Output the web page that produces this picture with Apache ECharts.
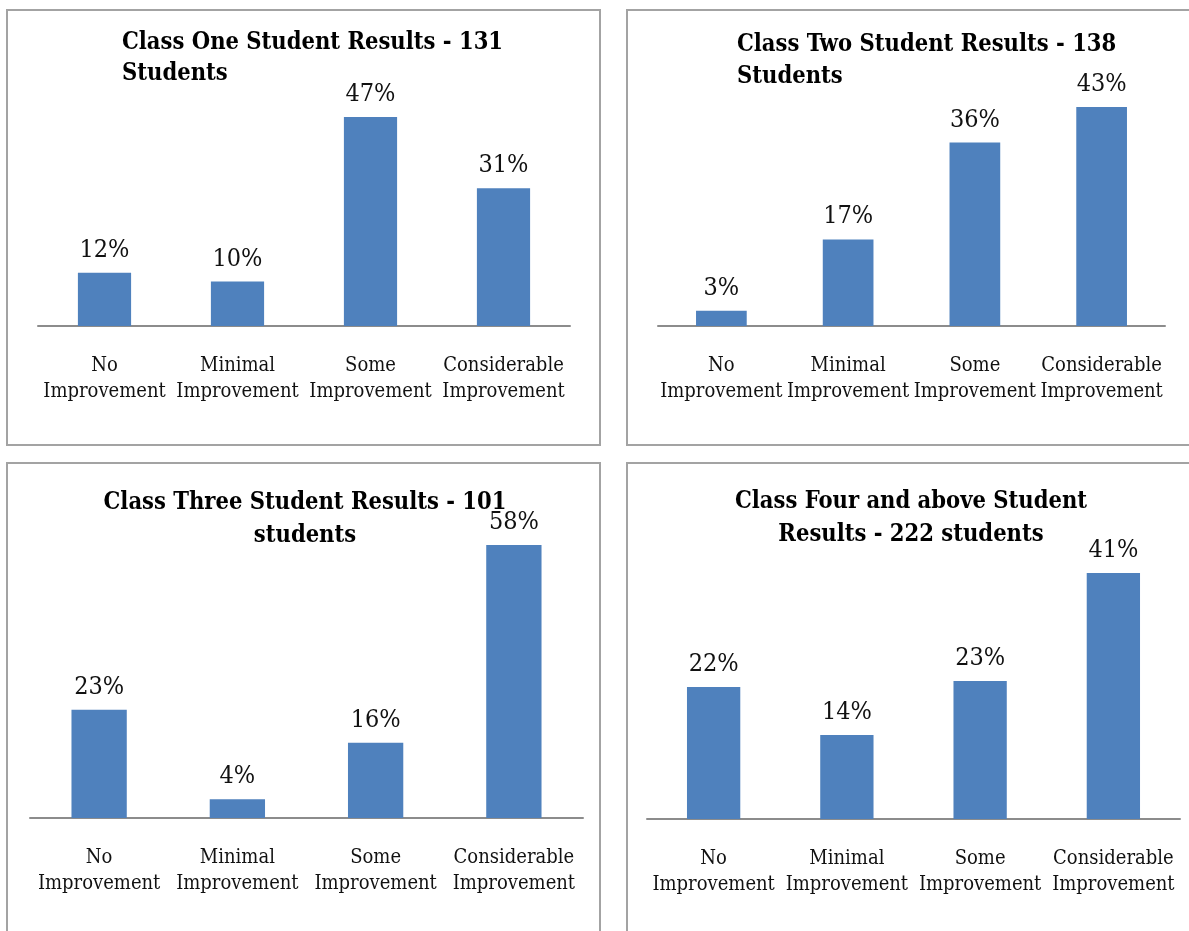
<!DOCTYPE html>
<html>
<head>
<meta charset="utf-8">
<style>
  html, body { margin: 0; padding: 0; background: #fff; overflow: hidden; }
  #main { width: 1189px; height: 931px; }
</style>
<script src="https://cdn.jsdelivr.net/npm/echarts@6/dist/echarts.min.js"></script>
</head>
<body>
<div id="main"></div>
<script>
// data (percent of students)
var categories = ['No Improvement', 'Minimal Improvement', 'Some Improvement', 'Considerable Improvement'];
var classOne = [12, 10, 47, 31];
var classTwo = [3, 17, 36, 43];
var classThree = [23, 4, 16, 58];
var classFour = [22, 14, 23, 41];
var panelTitles = [
    'Class One Student Results - 131\nStudents',
    'Class Two Student Results - 138\nStudents',
    'Class Three Student Results - 101\nstudents',
    'Class Four and above Student\nResults - 222 students'
];
var seriesData = [classOne, classTwo, classThree, classFour];

var myChart = echarts.init(document.getElementById('main'));

// panel placement
var grids = [
    { left: 38, top: 103.7, width: 532, height: 222.3 },
    { left: 658, top: 71.3, width: 507, height: 254.7 },
    { left: 30, top: 535.6, width: 553, height: 282.4 },
    { left: 647, top: 519, width: 533, height: 300 }
];
var yMax = [50, 50, 60, 50];
var titlePos = [
    { left: 122, top: 27, textAlign: 'left', lineHeight: 31 },
    { left: 737, top: 29, textAlign: 'left', lineHeight: 32 },
    { left: 305, top: 486, textAlign: 'center', lineHeight: 33 },
    { left: 911, top: 485, textAlign: 'center', lineHeight: 33 }
];
var frames = [
    { x: 7, y: 10, width: 593, height: 435 },
    { x: 627, y: 10, width: 600, height: 435 },
    { x: 7, y: 463, width: 593, height: 500 },
    { x: 627, y: 463, width: 600, height: 500 }
];

var serif = '"DejaVu Serif Condensed", "DejaVu Serif", serif';

option = {
    backgroundColor: '#fff',
    animation: false,
    title: panelTitles.map(function (t, i) {
        return {
            text: t,
            left: titlePos[i].left,
            top: titlePos[i].top,
            textAlign: titlePos[i].textAlign,
            padding: 0,
            textStyle: {
                fontFamily: serif,
                fontWeight: 'bold',
                fontSize: 23.5,
                lineHeight: titlePos[i].lineHeight,
                color: '#000'
            }
        };
    }),
    graphic: frames.map(function (f) {
        return {
            type: 'rect',
            shape: f,
            silent: true,
            style: { fill: 'none', stroke: '#a3a3a3', lineWidth: 2 }
        };
    }),
    grid: grids,
    xAxis: grids.map(function (g, i) {
        return {
            type: 'category',
            gridIndex: i,
            data: categories,
            axisTick: { show: false },
            axisLine: { lineStyle: { color: '#8c8c8c', width: 2 } },
            axisLabel: {
                interval: 0,
                margin: 27,
                fontFamily: serif,
                fontSize: 20,
                lineHeight: 26,
                color: '#111',
                formatter: function (v) { return v.replace(' ', '\n'); }
            }
        };
    }),
    yAxis: grids.map(function (g, i) {
        return {
            type: 'value',
            gridIndex: i,
            min: 0,
            max: yMax[i],
            show: false,
            splitLine: { show: false }
        };
    }),
    series: seriesData.map(function (d, i) {
        return {
            type: 'bar',
            xAxisIndex: i,
            yAxisIndex: i,
            data: d,
            barWidth: '40%',
            itemStyle: { color: '#4f81bd' },
            label: {
                show: true,
                position: 'top',
                distance: 10,
                formatter: '{c}%',
                fontFamily: serif,
                fontSize: 25,
                color: '#111'
            }
        };
    })
};
myChart.setOption(option);
</script>
</body>
</html>
